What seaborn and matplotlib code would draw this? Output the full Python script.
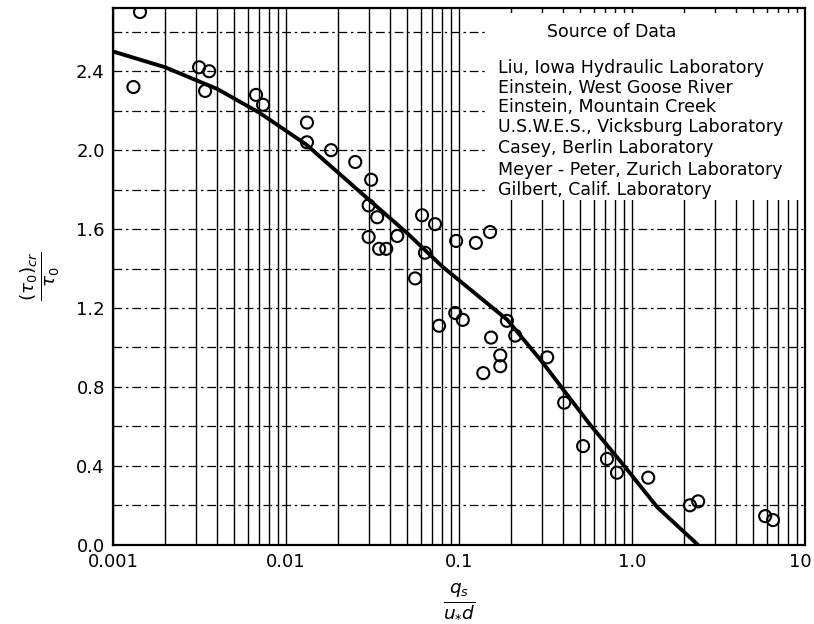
import numpy as np
import pandas as pd
import matplotlib
matplotlib.use('Agg')
import matplotlib.pyplot as plt
import matplotlib.transforms as mtransforms
from matplotlib.patches import Rectangle
import seaborn as sns

# pontos medidos (q_s / u*d , (tau0)cr / tau0)
pontos_x = [0.00143, 0.00131, 0.00314, 0.00359, 0.0034, 0.0067, 0.00736, 0.0132, 0.0132,
            0.0182, 0.0251, 0.031, 0.030, 0.0336, 0.030, 0.0439, 0.0345, 0.0379, 0.0611,
            0.0726, 0.0635, 0.0557, 0.0962, 0.125, 0.151, 0.095, 0.105, 0.0766, 0.153,
            0.189, 0.211, 0.173, 0.173, 0.138, 0.323, 0.405, 0.521, 0.716, 0.818, 1.24,
            2.16, 2.41, 5.88, 6.53]
pontos_y = [2.70, 2.32, 2.42, 2.40, 2.30, 2.28, 2.23, 2.14, 2.04,
            2.00, 1.94, 1.85, 1.72, 1.66, 1.56, 1.565, 1.50, 1.50, 1.67,
            1.625, 1.48, 1.35, 1.54, 1.53, 1.585, 1.175, 1.14, 1.11, 1.05,
            1.135, 1.06, 0.96, 0.905, 0.87, 0.95, 0.72, 0.50, 0.435, 0.365, 0.34,
            0.20, 0.22, 0.145, 0.125]

# curva ajustada
curva_x = [0.001, 0.002, 0.004, 0.007, 0.013, 0.03, 0.05, 0.08, 0.19, 0.3, 0.57, 0.9, 1.4, 2.4]
curva_y = [2.50, 2.42, 2.31, 2.19, 2.03, 1.75, 1.58, 1.41, 1.14, 0.93, 0.61, 0.40, 0.19, 0.0]

fontes = ['Liu, Iowa Hydraulic Laboratory',
          'Einstein, West Goose River',
          'Einstein, Mountain Creek',
          'U.S.W.E.S., Vicksburg Laboratory',
          'Casey, Berlin Laboratory',
          'Meyer - Peter, Zurich Laboratory',
          'Gilbert, Calif. Laboratory']

x_ticks = [0.001, 0.01, 0.1, 1.0, 10]
x_labels = ['0.001', '0.01', '0.1', '1.0', '10']
y_ticks = [0.0, 0.4, 0.8, 1.2, 1.6, 2.0, 2.4]

df_pontos = pd.DataFrame({'x': pontos_x, 'y': pontos_y})
df_curva = pd.DataFrame({'x': curva_x, 'y': curva_y})

sns.set_style('white')
plt.rcParams['font.family'] = ['DejaVu Sans']
plt.rcParams['text.color'] = 'black'
plt.rcParams['axes.labelcolor'] = 'black'
plt.rcParams['xtick.color'] = 'black'
plt.rcParams['ytick.color'] = 'black'

fig = plt.figure(figsize=(8.14, 6.24), dpi=100)
ax = fig.add_axes([0.139, 0.127, 0.850, 0.860])
ax.set_xscale('log')
ax.set_xlim(0.001, 10)
ax.set_ylim(0, 2.72)

# grade: verticais contínuas, horizontais tracejadas
for dec in [0.001, 0.01, 0.1, 1.0]:
    for m in range(1, 10):
        ax.axvline(dec * m, color='black', lw=1.0, zorder=1)
for yv in np.arange(0.2, 2.7, 0.2):
    ax.axhline(yv, color='black', lw=0.9, ls=(0, (7, 3, 2, 3)), zorder=1)

# área branca da legenda
ax.add_patch(Rectangle((0.540, 0.642), 0.46, 0.349, transform=ax.transAxes,
                       facecolor='white', edgecolor='none', zorder=2))

sns.lineplot(data=df_curva, x='x', y='y', color='black', lw=2.8, ax=ax, zorder=3)
sns.scatterplot(data=df_pontos, x='x', y='y', marker='o', s=75, facecolor='none',
                edgecolor='black', linewidth=1.5, ax=ax, zorder=4)

ax.text(0.721, 0.955, 'Source of Data', transform=ax.transAxes, ha='center', va='center',
        fontsize=12.5, zorder=5)
for nome, yy in zip(fontes, [0.888, 0.851, 0.816, 0.778, 0.739, 0.698, 0.661]):
    ax.text(0.556, yy, nome, transform=ax.transAxes, ha='left', va='center',
            fontsize=12.5, zorder=5)

ax.set_xticks(x_ticks)
ax.set_xticklabels(x_labels, fontsize=13)
ax.xaxis.set_minor_locator(matplotlib.ticker.NullLocator())
ax.set_yticks(y_ticks)
ax.set_yticklabels(['%.1f' % v for v in y_ticks], fontsize=13)
ax.tick_params(length=0, pad=6)

# o "10" fica dentro da figura
ultimo = ax.get_xticklabels()[-1]
ultimo.set_horizontalalignment('right')
ultimo.set_transform(ultimo.get_transform() + mtransforms.ScaledTranslation(0.07, 0, fig.dpi_scale_trans))

for s in ax.spines.values():
    s.set_color('black')
    s.set_linewidth(1.6)

ax.set_xlabel(r'$\frac{q_s}{u_{*} d}$', fontsize=19, labelpad=8)
ax.set_ylabel(r'$\frac{(\tau_0)_{cr}}{\tau_0}$', fontsize=19, labelpad=10)

plt.savefig('out.png', dpi=100)
